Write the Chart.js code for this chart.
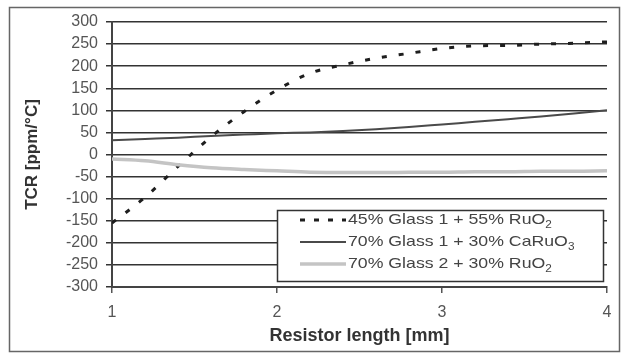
<!DOCTYPE html>
<html>
<head>
<meta charset="utf-8">
<script src="https://cdn.jsdelivr.net/npm/chart.js@4.4.0/dist/chart.umd.min.js"></script>
<style>
  html, body { margin: 0; padding: 0; background: #fff; }
  #wrap { width: 628px; height: 358px; position: relative; }
</style>
</head>
<body>
<div id="wrap"><canvas id="grafico"></canvas></div>
<script>
// resistor length [mm]
const comprimentos = [1, 1.2, 1.4, 1.6, 1.8, 2, 2.2, 2.4, 2.6, 2.8, 3, 3.2, 3.4, 3.6, 3.8, 4];
// TCR [ppm/°C]
const vidro1RuO2 = [-155, -97, -27, 40, 97, 146, 184, 203, 218, 229, 240, 246, 247, 250, 252, 255];
const vidro1CaRuO3 = [32, 35, 38, 42, 45, 48, 50, 53, 57, 62, 68, 74, 80, 86, 93, 100];
const vidro2RuO2 = [-10, -14, -23, -30, -34, -37, -40, -41, -41, -40, -40, -39, -39, -38, -38, -37];
const xTicks = [1, 2, 3, 4];
const nomes = [
  ['45% Glass 1 + 55% RuO', '2'],
  ['70% Glass 1 + 30% CaRuO', '3'],
  ['70% Glass 2 + 30% RuO', '2']
];

const fonte = 'Arial, "Liberation Sans", sans-serif';
const pontos = vals => comprimentos.map((x, i) => ({ x: x, y: vals[i] }));

const estilos = [
  { borderColor: '#1e1e1e', borderWidth: 3, borderDash: [5, 12] },
  { borderColor: '#4a4a4a', borderWidth: 2, borderDash: [] },
  { borderColor: '#c4c4c4', borderWidth: 3.5, borderDash: [] }
];

// moldura externa e legenda dentro da área do gráfico
const molduraLegenda = {
  id: 'molduraLegenda',
  afterDraw(chart) {
    const ctx = chart.ctx;
    ctx.save();
    ctx.strokeStyle = '#666';
    ctx.lineWidth = 1.5;
    ctx.strokeRect(9.5, 7.5, 610, 344);

    const bx = 277, by = 210, bw = 326, bh = 71;
    ctx.fillStyle = '#fff';
    ctx.fillRect(bx, by, bw, bh);
    ctx.strokeStyle = '#333';
    ctx.lineWidth = 1.5;
    ctx.strokeRect(bx + 0.5, by + 0.5, bw, bh);

    const linhas = [220, 242, 264];
    nomes.forEach((n, i) => {
      const y = linhas[i];
      const e = estilos[i];
      ctx.beginPath();
      ctx.strokeStyle = e.borderColor;
      ctx.lineWidth = e.borderWidth;
      ctx.setLineDash(e.borderDash.length ? [5, 9] : []);
      ctx.moveTo(300, y);
      ctx.lineTo(346, y);
      ctx.stroke();
      ctx.setLineDash([]);
      // texto levemente esticado na horizontal, como no original
      ctx.save();
      ctx.translate(348, y);
      ctx.scale(1.18, 1);
      ctx.fillStyle = '#444';
      ctx.textBaseline = 'middle';
      ctx.textAlign = 'left';
      ctx.font = '15px ' + fonte;
      ctx.fillText(n[0], 0, 0);
      const w = ctx.measureText(n[0]).width;
      ctx.font = '10px ' + fonte;
      ctx.fillText(n[1], w, 5);
      ctx.restore();
    });
    ctx.restore();
  }
};

new Chart(document.getElementById('grafico').getContext('2d'), {
  type: 'line',
  data: {
    datasets: [vidro1RuO2, vidro1CaRuO3, vidro2RuO2].map((v, i) => ({
      label: nomes[i].join(''),
      data: pontos(v),
      borderColor: estilos[i].borderColor,
      borderWidth: estilos[i].borderWidth,
      borderDash: estilos[i].borderDash,
      pointRadius: 0,
      fill: false,
      cubicInterpolationMode: 'monotone',
      order: 3 - i
    }))
  },
  options: {
    responsive: true,
    maintainAspectRatio: false,
    animation: false,
    layout: { padding: { left: 22, top: 22, right: 21, bottom: 8 } },
    plugins: { legend: { display: false }, tooltip: { enabled: false } },
    scales: {
      x: {
        type: 'linear',
        min: 1,
        max: 4,
        afterBuildTicks: s => { s.ticks = xTicks.map(v => ({ value: v })); },
        afterFit: s => { s.height = 63; },
        grid: { drawOnChartArea: false, color: '#555', tickLength: 6, lineWidth: 1.5 },
        border: { color: '#444', width: 2 },
        ticks: { color: '#555', font: { family: fonte, size: 16 }, padding: 10, autoSkip: false, maxRotation: 0 },
        title: {
          display: true,
          text: 'Resistor length [mm]',
          color: '#333',
          font: { family: fonte, size: 18, weight: 'bold' },
          padding: { top: 0, bottom: 3 }
        }
      },
      y: {
        min: -300,
        max: 300,
        afterFit: s => { s.width = 90; },
        grid: { color: '#333', lineWidth: 1.5, tickLength: 6 },
        border: { color: '#444', width: 2 },
        ticks: { stepSize: 50, color: '#555', font: { family: fonte, size: 16 }, padding: 8, autoSkip: false },
        title: {
          display: true,
          text: 'TCR [ppm/°C]',
          color: '#333',
          font: { family: fonte, size: 17, weight: 'bold' },
          padding: { top: 0, bottom: 0 }
        }
      }
    }
  },
  plugins: [molduraLegenda]
});
</script>
</body>
</html>
